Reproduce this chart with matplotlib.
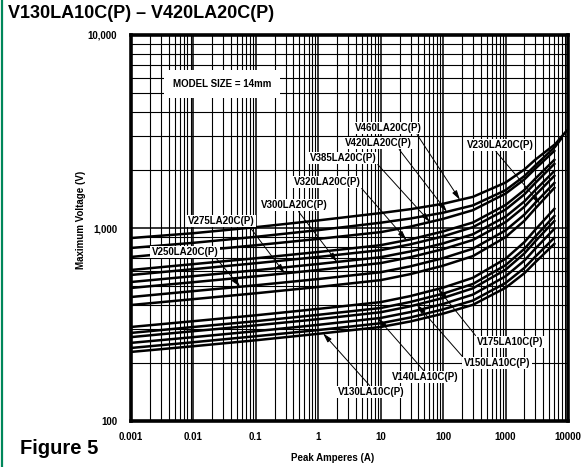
import numpy as np
import matplotlib
matplotlib.use('Agg')
import matplotlib.pyplot as plt
from matplotlib.ticker import LogLocator, NullFormatter
from matplotlib.lines import Line2D

plt.rcParams['font.family'] = ['Liberation Sans', 'DejaVu Sans']
plt.rcParams['font.weight'] = 'bold'

# ---------------- data ----------------
amps = [0.001, 0.01, 0.1, 1, 10, 30, 100, 300, 1000, 2000, 3000, 6240]
amps_v460 = amps + [9750]
amps_v420 = amps + [8090]

v460 = [887, 940, 1010, 1095, 1195, 1252, 1335, 1450, 1720, 2010, 2260, 2720, 3220]
v420 = [788, 838, 900, 975, 1065, 1120, 1200, 1310, 1570, 1858, 2110, 2640, 2950]
v385 = [708, 759, 814, 878, 952, 1017, 1115, 1237, 1507, 1786, 2030, 2535]
v320 = [606, 650, 697, 751, 815, 873, 960, 1068, 1316, 1574, 1802, 2278]
v_mid = [571, 612, 657, 708, 768, 823, 905, 1010, 1245, 1493, 1712, 2170]
v300 = [525, 563, 604, 651, 706, 756, 832, 928, 1145, 1373, 1574, 1995]
v275 = [489, 524, 562, 606, 658, 706, 777, 867, 1072, 1288, 1480, 1883]
v250 = [439, 471, 505, 544, 590, 633, 698, 781, 972, 1173, 1351, 1730]
v230 = [399, 428, 459, 495, 537, 577, 638, 715, 897, 1090, 1263, 1632]
v175 = [307, 329, 353, 381, 413, 444, 491, 552, 693, 845, 981, 1271]
v_low1 = [286, 307, 329, 355, 385, 414, 457, 513, 642, 780, 904, 1167]
v150 = [272, 292, 313, 337, 366, 393, 434, 487, 608, 738, 854, 1099]
v140 = [254, 272, 292, 315, 342, 367, 404, 452, 562, 678, 782, 1001]
v_low2 = [239, 256, 275, 296, 321, 344, 379, 421, 519, 621, 711, 899]
v130 = [228, 244, 262, 283, 307, 328, 360, 400, 490, 583, 665, 836]

xtick_vals = [0.001, 0.01, 0.1, 1, 10, 100, 1000, 10000]
xtick_labels = ['0.001', '0.01', '0.1', '1', '10', '100', '1000', '10000']
ytick_vals = [100, 1000, 10000]
ytick_labels = ['100', '1,000', '10,000']

label_names = ['V460LA20C(P)', 'V420LA20C(P)', 'V385LA20C(P)', 'V320LA20C(P)',
               'V300LA20C(P)', 'V275LA20C(P)', 'V250LA20C(P)', 'V230LA20C(P)',
               'V175LA10C(P)', 'V150LA10C(P)', 'V140LA10C(P)', 'V130LA10C(P)']
label_amps = [186, 115, 61.5, 26, 2.0, 0.29, 0.056, 3550, 83, 38, 9, 1.19]

curves = [(amps_v460, v460), (amps_v420, v420), (amps, v385), (amps, v320),
          (amps, v_mid), (amps, v300), (amps, v275), (amps, v250), (amps, v230),
          (amps, v175), (amps, v_low1), (amps, v150), (amps, v140),
          (amps, v_low2), (amps, v130)]
label_curves = [curves[0], curves[1], curves[2], curves[3], curves[5], curves[6],
                curves[7], curves[8], curves[9], curves[11], curves[12], curves[14]]

# label text centres (figure pixels from top-left) and arrow start relpos
label_pos = [(388, 128), (378, 143), (343, 158), (327, 182), (294, 205),
             (221, 221), (185, 252), (500, 145), (510, 342), (497, 363),
             (425, 377), (371, 392)]
label_rel = [(0.92, 0), (0.8, 0), (1.0, 0), (1.0, 0), (0.55, 0), (0.92, 0),
             (0.95, 0), (0.42, 0), (0.0, 1), (0.0, 1), (0.5, 1), (0.5, 1)]

# ---------------- figure ----------------
W, H = 581, 467
fig = plt.figure(figsize=(W / 100, H / 100), dpi=100)
ax = fig.add_axes([131 / W, 1 - 421 / H, (568 - 131) / W, (421 - 35) / H])
ax.set_xscale('log')
ax.set_yscale('log')
ax.set_xlim(0.001, 10000)
ax.set_ylim(100, 10000)

ax.xaxis.set_minor_locator(LogLocator(base=10, subs=np.arange(2, 10), numticks=50))
ax.yaxis.set_minor_locator(LogLocator(base=10, subs=np.arange(2, 10), numticks=50))
ax.xaxis.set_minor_formatter(NullFormatter())
ax.yaxis.set_minor_formatter(NullFormatter())
ax.set_xticks(xtick_vals)
ax.set_xticklabels(xtick_labels)
ax.set_yticks(ytick_vals)
ax.set_yticklabels(ytick_labels)
ax.tick_params(which='both', length=0)
ax.tick_params(axis='x', pad=8, labelsize=7)
ax.tick_params(axis='y', pad=10, labelsize=7)
for lab in ax.get_xticklabels() + ax.get_yticklabels():
    lab.set_fontweight('bold')

ax.grid(which='major', color='black', lw=1.1, zorder=1)
ax.grid(which='minor', color='black', lw=0.8, zorder=1)
ax.set_axisbelow(True)
for sp in ax.spines.values():
    sp.set_linewidth(2.6)
    sp.set_color('black')
    sp.set_zorder(6)

for xs, ys in curves:
    ax.plot(xs, ys, color='black', lw=1.8, solid_capstyle='butt',
            solid_joinstyle='round', zorder=3)

for name, amp, (xs, ys), (px, py), rel in zip(label_names, label_amps, label_curves,
                                               label_pos, label_rel):
    vy = 10 ** np.interp(np.log10(amp), np.log10(xs), np.log10(ys))
    ax.annotate(name, xy=(amp, vy), xycoords='data',
                xytext=(px, H - py), textcoords='figure pixels',
                ha='center', va='center', fontsize=7, fontweight='bold',
                bbox=dict(boxstyle='square,pad=0.15', fc='white', ec='none'),
                arrowprops=dict(arrowstyle='-|>,head_length=0.8,head_width=0.22',
                                color='black', lw=0.7, shrinkA=0, shrinkB=0,
                                relpos=rel),
                zorder=5)

fig.text(222 / W, 1 - 84 / H, 'MODEL SIZE = 14mm', ha='center', va='center',
         fontsize=7, fontweight='bold', zorder=5,
         bbox=dict(boxstyle='square,pad=0.9', fc='white', ec='none'))

fig.text(8 / W, 1 - 14 / H, 'V130LA10C(P) – V420LA20C(P)', ha='left', va='center',
         fontsize=13, fontweight='bold')
fig.text(20 / W, 1 - 449 / H, 'Figure 5', ha='left', va='center',
         fontsize=14.5, fontweight='bold')
fig.text(333 / W, 1 - 458 / H, 'Peak Amperes (A)', ha='center', va='center',
         fontsize=7, fontweight='bold')
fig.text(81 / W, 1 - 220 / H, 'Maximum Voltage (V)', ha='center', va='center',
         rotation=90, fontsize=7, fontweight='bold')

fig.add_artist(Line2D([2.5 / W, 2.5 / W], [0, 1], transform=fig.transFigure,
                      color='#00875a', lw=1.6))

fig.savefig('out.png', dpi=100)
